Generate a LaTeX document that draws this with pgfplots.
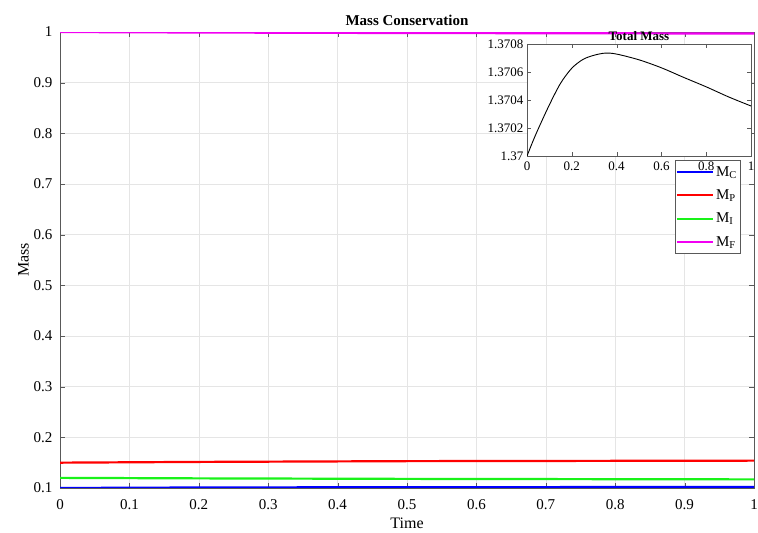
\documentclass[border=0pt]{standalone}
\usepackage{fontspec}
\setmainfont{Liberation Serif}
\usepackage{pgfplots}
\pgfplotsset{compat=1.18}
\definecolor{mB}{rgb}{0,0,1}
\definecolor{mR}{rgb}{1,0,0}
\definecolor{mG}{rgb}{0.1,0.95,0.1}
\definecolor{mM}{rgb}{0.95,0,0.95}
\pgfplotsset{longlegend/.style={legend image code/.code={\draw[#1, line width=2.2pt] (0pt,0pt) -- (36pt,0pt);}}}
\begin{document}
\begin{tikzpicture}
\useasboundingbox (0pt,0pt) rectangle (758pt,533pt);
\begin{axis}[
  at={(60pt,45pt)}, anchor=south west,
  scale only axis, width=694pt, height=456pt,
  xmin=0, xmax=1, ymin=0.1, ymax=1,
  xtick={0,0.1,...,1.0001}, ytick={0.1,0.2,...,1.0001},
  grid=major, major grid style={gray!20, line width=0.5pt},
  axis line style={gray!70!black, line width=0.6pt},
  tick style={gray!70!black}, tick align=inside, major tick length=5pt,
  /pgf/number format/assume math mode=true,
  ticklabel style={font=\fontsize{15}{15}\selectfont},
  xticklabel style={yshift=-8pt}, yticklabel style={xshift=-4pt},
  xlabel={Time}, ylabel={Mass},
  label style={font=\fontsize{16}{16}\selectfont},
  xlabel style={yshift=-1pt}, ylabel style={yshift=-2pt},
  title={\textbf{Mass Conservation}},
  title style={font=\fontsize{15}{15}\selectfont, yshift=-3pt},
  legend style={at={(0.98,0.719)}, anchor=north east, draw=gray!70!black, font=\fontsize{15}{15}\selectfont, inner xsep=1pt, inner ysep=4pt, row sep=8pt, cells={anchor=west}},
  legend cell align=left,
  longlegend,
]
\addplot[mB, line width=2.2pt] coordinates {(0,0.100) (0.2,0.1010) (0.5,0.1016) (1,0.1020)};
\addlegendentry{M\textsubscript{C}}
\addplot[mR, line width=2.2pt] coordinates {(0,0.150) (0.2,0.1515) (0.5,0.1530) (1,0.1540)};
\addlegendentry{M\textsubscript{P}}
\addplot[mG, line width=2.2pt] coordinates {(0,0.120) (0.2,0.1190) (0.5,0.1180) (1,0.1170)};
\addlegendentry{M\textsubscript{I}}
\addplot[mM, line width=2.2pt] coordinates {(0,1.000) (0.2,0.9990) (0.5,0.9980) (1,0.9970)};
\addlegendentry{M\textsubscript{F}}
\end{axis}
\begin{axis}[
  at={(527pt,377pt)}, anchor=south west,
  scale only axis, width=224pt, height=112pt,
  xmin=0, xmax=1, ymin=1.37, ymax=1.3708,
  xtick={0,0.2,...,1.0001}, ytick={1.37,1.3702,1.3704,1.3706,1.3708},
  scaled y ticks=false,
  yticklabel style={/pgf/number format/.cd, fixed, precision=4},
  axis background/.style={fill=white},
  axis line style={gray!70!black, line width=0.6pt},
  tick style={gray!70!black}, tick align=inside, major tick length=4pt,
  /pgf/number format/assume math mode=true,
  ticklabel style={font=\fontsize{13}{13}\selectfont},
  xticklabel style={yshift=-2pt},
  title={\textbf{Total Mass}},
  title style={font=\fontsize{13}{13}\selectfont, yshift=-6pt},
]
\addplot[black, line width=0.9pt, smooth] coordinates {
(0,1.37) (0.025,1.37010) (0.05,1.370193) (0.1,1.370366) (0.15,1.37052) (0.2,1.370627)
(0.25,1.37069) (0.3,1.37072) (0.35,1.370735) (0.4,1.370728) (0.5,1.370687) (0.6,1.37063)
(0.7,1.370561) (0.8,1.370494) (0.9,1.370422) (1,1.370357)};
\end{axis}
\end{tikzpicture}
\end{document}
